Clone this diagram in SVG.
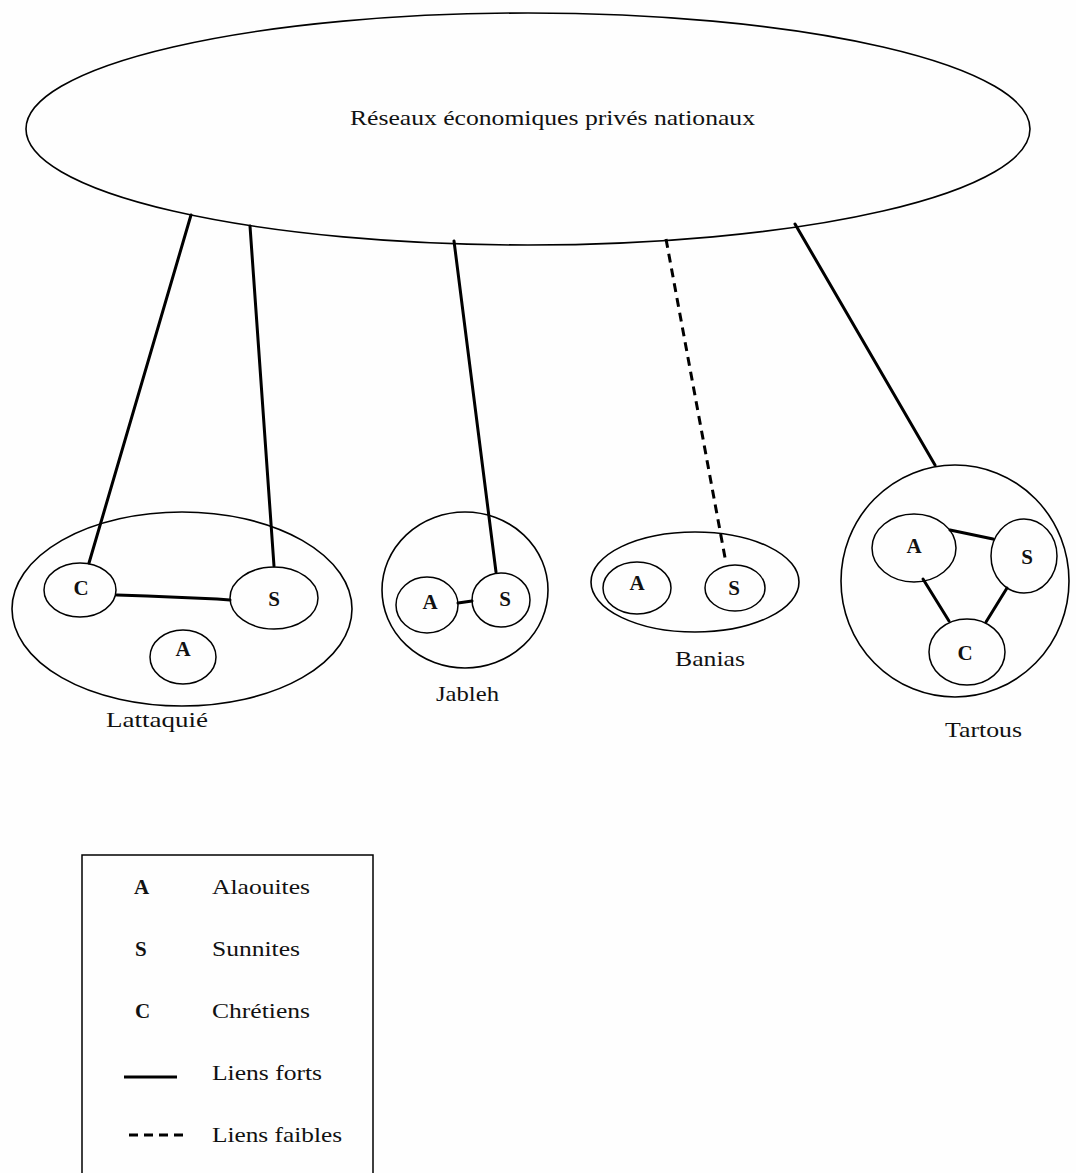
<svg xmlns="http://www.w3.org/2000/svg" width="1076" height="1173" viewBox="0 0 1076 1173">
<style>
.o{fill:none;stroke:#000;stroke-width:1.6}
.n{fill:none;stroke:#000;stroke-width:1.5}
.l{stroke:#000;stroke-width:3;fill:none;stroke-linecap:round}
.d{stroke:#000;stroke-width:3;fill:none;stroke-dasharray:9 6}
text{font-family:"Liberation Serif","Times New Roman",serif;fill:#111}
.t{font-size:21px}
.k{font-size:21px;text-anchor:middle;font-weight:bold}
.g{font-size:21px}
.b{font-weight:bold}
</style>
<rect width="1076" height="1173" fill="#fefefe"/>
<g id="reseaux">
<ellipse class="o" cx="528" cy="129" rx="502" ry="116"/>
<text class="t" x="350" y="125" textLength="405" lengthAdjust="spacingAndGlyphs">Réseaux économiques privés nationaux</text>
</g>
<g id="lattaquie">
<ellipse class="o" cx="182" cy="609" rx="170" ry="97"/>
<g id="lat-C"><ellipse class="n" cx="80" cy="590" rx="36" ry="27"/><text class="k" x="81" y="595">C</text></g>
<g id="lat-S"><ellipse class="n" cx="274" cy="598" rx="44" ry="31"/><text class="k" x="274" y="606">S</text></g>
<g id="lat-A"><ellipse class="n" cx="183" cy="657" rx="33" ry="27"/><text class="k" x="183" y="656">A</text></g>
<text class="g" x="106" y="727" textLength="102" lengthAdjust="spacingAndGlyphs">Lattaquié</text>
</g>
<g id="jableh">
<ellipse class="o" cx="465" cy="590" rx="83" ry="78"/>
<g id="jab-A"><ellipse class="n" cx="427" cy="605" rx="31" ry="28"/><text class="k" x="430" y="609">A</text></g>
<g id="jab-S"><ellipse class="n" cx="501" cy="600" rx="29" ry="27"/><text class="k" x="505" y="606">S</text></g>
<text class="g" x="436" y="701" textLength="63" lengthAdjust="spacingAndGlyphs">Jableh</text>
</g>
<g id="banias">
<ellipse class="o" cx="695" cy="582" rx="104" ry="50"/>
<g id="ban-A"><ellipse class="n" cx="637" cy="588" rx="34" ry="26"/><text class="k" x="637" y="590">A</text></g>
<g id="ban-S"><ellipse class="n" cx="735" cy="588" rx="30" ry="23"/><text class="k" x="734" y="595">S</text></g>
<text class="g" x="675" y="666" textLength="70" lengthAdjust="spacingAndGlyphs">Banias</text>
</g>
<g id="tartous">
<ellipse class="o" cx="955" cy="581" rx="114" ry="116"/>
<g id="tar-A"><ellipse class="n" cx="914" cy="548" rx="42" ry="34"/><text class="k" x="914" y="553">A</text></g>
<g id="tar-S"><ellipse class="n" cx="1024" cy="556" rx="33" ry="37"/><text class="k" x="1027" y="564">S</text></g>
<g id="tar-C"><ellipse class="n" cx="967" cy="652" rx="38" ry="33"/><text class="k" x="965" y="660">C</text></g>
<text class="g" x="945" y="737" textLength="77" lengthAdjust="spacingAndGlyphs">Tartous</text>
</g>
<g id="connectors">
<line class="l" x1="191" y1="215" x2="89" y2="563"/>
<line class="l" x1="250" y1="226" x2="274" y2="566"/>
<line class="l" x1="454" y1="241" x2="496" y2="572"/>
<line class="d" x1="666" y1="239" x2="726" y2="563"/>
<line class="l" x1="795" y1="224" x2="935" y2="465"/>
<polyline class="l" points="117,595 147,596 217,599 230,600"/>
<line class="l" x1="458" y1="603" x2="472" y2="601"/>
<line class="l" x1="950" y1="530" x2="993" y2="539"/>
<line class="l" x1="923" y1="579" x2="949" y2="621"/>
<line class="l" x1="1007" y1="588" x2="986" y2="622"/>
</g>
<g id="legend">
<path d="M82 1180 V855 H373 V1180" fill="none" stroke="#000" stroke-width="1.5"/>
<text class="g b" x="134" y="894">A</text>
<text class="g" x="212" y="894" textLength="98" lengthAdjust="spacingAndGlyphs">Alaouites</text>
<text class="g b" x="135" y="956">S</text>
<text class="g" x="212" y="956" textLength="88" lengthAdjust="spacingAndGlyphs">Sunnites</text>
<text class="g b" x="135" y="1018">C</text>
<text class="g" x="212" y="1018" textLength="98" lengthAdjust="spacingAndGlyphs">Chrétiens</text>
<line x1="124" y1="1077" x2="177" y2="1077" stroke="#000" stroke-width="3"/>
<text class="g" x="212" y="1080" textLength="110" lengthAdjust="spacingAndGlyphs">Liens forts</text>
<line x1="129" y1="1135" x2="185" y2="1135" stroke="#000" stroke-width="3" stroke-dasharray="9 6"/>
<text class="g" x="212" y="1142" textLength="130" lengthAdjust="spacingAndGlyphs">Liens faibles</text>
</g>
</svg>
